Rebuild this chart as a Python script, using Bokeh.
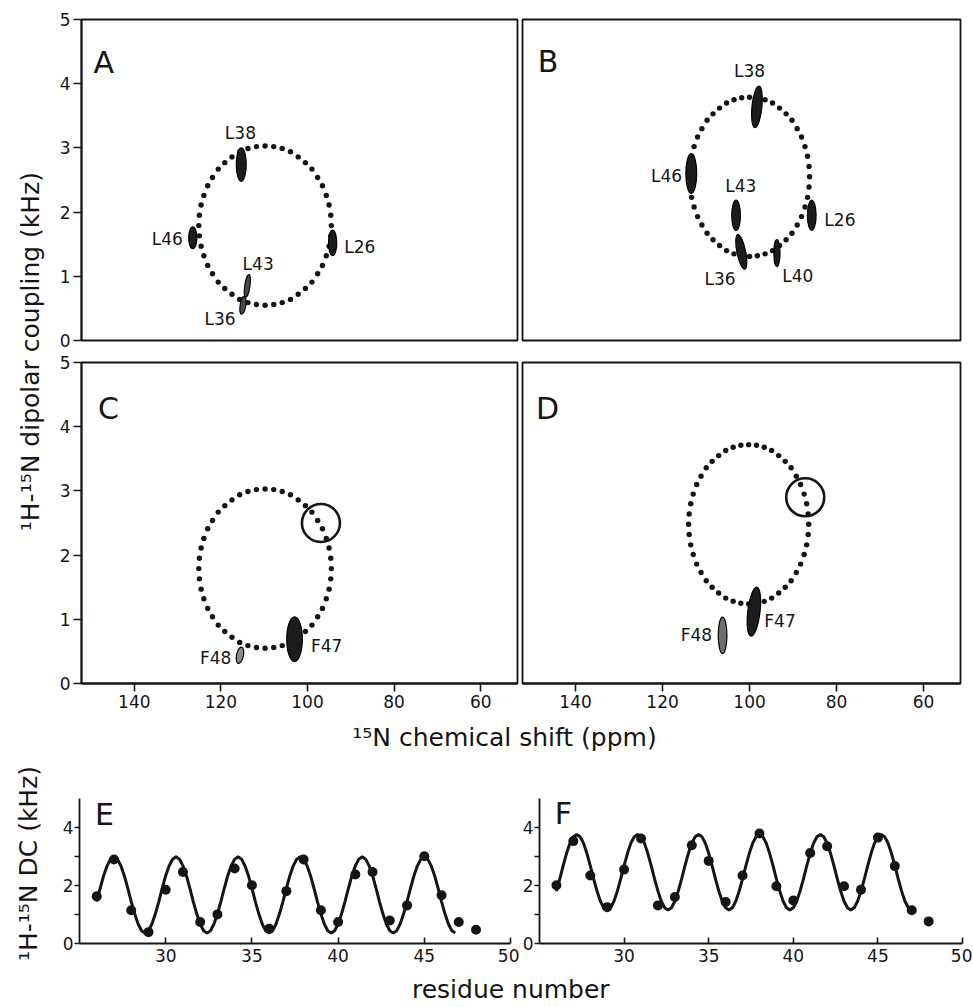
import math
from bokeh.plotting import figure
from bokeh.layouts import row, column
from bokeh.models import Range1d, FixedTicker, ColumnDataSource
from bokeh.core.properties import value, field
from bokeh.embed import file_html
from bokeh.resources import INLINE

FONT = "DejaVu Sans"
INK = "#151515"

# ---------------- axis ticks ----------------
ppm_ticks = [140, 120, 100, 80, 60]
khz_ticks = [0, 1, 2, 3, 4, 5]
residue_ticks = [30, 35, 40, 45, 50]
dc_major_ticks = [0, 2, 4]
dc_minor_ticks = [1, 3]

# ---------------- PISA wheel dots (15N ppm, kHz) ----------------
wheel_AC_ppm = [125.10, 124.97, 124.58, 123.94, 123.05, 121.94, 120.62, 119.11, 117.45, 115.66, 113.76, 111.80,
                109.80, 107.80, 105.84, 103.94, 102.15, 100.49, 98.98, 97.66, 96.55, 95.66, 95.02, 94.63,
                94.50, 94.63, 95.02, 95.66, 96.55, 97.66, 98.98, 100.49, 102.15, 103.94, 105.84, 107.80,
                109.80, 111.80, 113.76, 115.66, 117.45, 119.11, 120.62, 121.94, 123.05, 123.94, 124.58, 124.97]
wheel_AC_khz = [1.79, 1.95, 2.11, 2.26, 2.41, 2.54, 2.67, 2.77, 2.86, 2.94, 2.99, 3.02,
                3.03, 3.02, 2.99, 2.94, 2.86, 2.77, 2.67, 2.54, 2.41, 2.26, 2.11, 1.95,
                1.79, 1.63, 1.47, 1.32, 1.17, 1.04, 0.91, 0.81, 0.72, 0.64, 0.59, 0.56,
                0.55, 0.56, 0.59, 0.64, 0.72, 0.81, 0.91, 1.04, 1.17, 1.32, 1.47, 1.63]

wheel_B_ppm = [113.80, 113.68, 113.33, 112.75, 111.95, 110.95, 109.76, 108.40, 106.90, 105.28, 103.57, 101.80,
               100.00, 98.20, 96.43, 94.72, 93.10, 91.60, 90.24, 89.05, 88.05, 87.25, 86.67, 86.32,
               86.20, 86.32, 86.67, 87.25, 88.05, 89.05, 90.24, 91.60, 93.10, 94.72, 96.43, 98.20,
               100.00, 101.80, 103.57, 105.28, 106.90, 108.40, 109.76, 110.95, 111.95, 112.75, 113.33, 113.68]
wheel_B_khz = [2.55, 2.71, 2.87, 3.02, 3.17, 3.30, 3.43, 3.53, 3.62, 3.70, 3.75, 3.78,
               3.79, 3.78, 3.75, 3.70, 3.62, 3.53, 3.43, 3.30, 3.17, 3.02, 2.87, 2.71,
               2.55, 2.39, 2.23, 2.08, 1.93, 1.80, 1.67, 1.57, 1.48, 1.40, 1.35, 1.32,
               1.31, 1.32, 1.35, 1.40, 1.48, 1.57, 1.67, 1.80, 1.93, 2.08, 2.23, 2.39]

wheel_D_ppm = [114.00, 113.88, 113.53, 112.95, 112.15, 111.15, 109.96, 108.60, 107.10, 105.48, 103.77, 102.00,
               100.20, 98.40, 96.63, 94.92, 93.30, 91.80, 90.44, 89.25, 88.25, 87.45, 86.87, 86.52,
               86.40, 86.52, 86.87, 87.45, 88.25, 89.25, 90.44, 91.80, 93.30, 94.92, 96.63, 98.40,
               100.20, 102.00, 103.77, 105.48, 107.10, 108.60, 109.96, 111.15, 112.15, 112.95, 113.53, 113.88]
wheel_D_khz = [2.48, 2.64, 2.80, 2.95, 3.10, 3.23, 3.36, 3.46, 3.55, 3.63, 3.68, 3.71,
               3.72, 3.71, 3.68, 3.63, 3.55, 3.46, 3.36, 3.23, 3.10, 2.95, 2.80, 2.64,
               2.48, 2.32, 2.16, 2.01, 1.86, 1.73, 1.60, 1.50, 1.41, 1.33, 1.28, 1.25,
               1.24, 1.25, 1.28, 1.33, 1.41, 1.50, 1.60, 1.73, 1.86, 2.01, 2.16, 2.32]

# ---------------- resonances ----------------
A_peak_label = ["L38", "L46", "L26", "L43", "L36"]
A_peak_ppm = [115.3, 126.5, 94.2, 113.9, 114.9]
A_peak_khz = [2.74, 1.60, 1.52, 0.85, 0.55]
A_peak_w = [2.3, 1.9, 1.9, 1.2, 1.3]
A_peak_h = [0.52, 0.34, 0.40, 0.36, 0.28]
A_peak_tilt = [0.0, 0.0, 0.0, -0.15, -0.15]
A_label_ppm = [115.5, 128.8, 91.5, 111.4, 120.2]
A_label_khz = [3.23, 1.58, 1.46, 1.19, 0.34]
A_label_align = ["center", "right", "left", "center", "center"]

B_peak_label = ["L38", "L46", "L43", "L36", "L40", "L26"]
B_peak_ppm = [98.3, 113.4, 103.1, 101.9, 93.7, 85.7]
B_peak_khz = [3.64, 2.60, 1.95, 1.38, 1.36, 1.95]
B_peak_w = [2.3, 2.5, 2.0, 2.0, 1.4, 2.0]
B_peak_h = [0.65, 0.62, 0.47, 0.55, 0.42, 0.47]
B_peak_tilt = [-0.1, 0.0, 0.0, 0.2, 0.0, 0.0]
B_label_ppm = [100.0, 115.5, 102.0, 106.8, 88.9, 82.8]
B_label_khz = [4.20, 2.57, 2.40, 0.96, 1.01, 1.88]
B_label_align = ["center", "right", "center", "center", "center", "left"]

C_peak_label = ["F47", "F48"]
C_peak_ppm = [103.0, 115.6]
C_peak_khz = [0.69, 0.44]
C_peak_w = [3.6, 1.6]
C_peak_h = [0.70, 0.26]
C_peak_tilt = [0.0, -0.2]
C_label_ppm = [99.2, 117.6]
C_label_khz = [0.59, 0.39]
C_label_align = ["left", "right"]
C_circle_ppm = [96.9]
C_circle_khz = [2.50]

D_peak_label = ["F47", "F48"]
D_peak_ppm = [99.0, 106.2]
D_peak_khz = [1.12, 0.75]
D_peak_w = [2.8, 2.0]
D_peak_h = [0.77, 0.57]
D_peak_tilt = [-0.12, 0.0]
D_label_ppm = [96.6, 108.6]
D_label_khz = [0.98, 0.75]
D_label_align = ["left", "right"]
D_circle_ppm = [87.2]
D_circle_khz = [2.90]

# ---------------- dipolar waves ----------------
residues = [26, 27, 28, 29, 30, 31, 32, 33, 34, 35, 36, 37, 38, 39, 40, 41, 42, 43, 44, 45, 46, 47, 48]
E_dc = [1.62, 2.89, 1.14, 0.39, 1.85, 2.46, 0.74, 1.00, 2.58, 2.00, 0.51, 1.80,
        2.89, 1.14, 0.74, 2.37, 2.46, 0.79, 1.31, 3.00, 1.66, 0.74, 0.47]
F_dc = [2.00, 3.52, 2.34, 1.25, 2.54, 3.61, 1.31, 1.60, 3.38, 2.84, 1.43, 2.34,
        3.78, 1.97, 1.48, 3.11, 3.34, 1.97, 1.85, 3.64, 2.66, 1.14, 0.76]

E_fit_res = [26.0, 26.2, 26.4, 26.6, 26.8, 27.0, 27.2, 27.4, 27.6, 27.8,
             28.0, 28.2, 28.4, 28.6, 28.8, 29.0, 29.2, 29.4, 29.6, 29.8,
             30.0, 30.2, 30.4, 30.6, 30.8, 31.0, 31.2, 31.4, 31.6, 31.8,
             32.0, 32.2, 32.4, 32.6, 32.8, 33.0, 33.2, 33.4, 33.6, 33.8,
             34.0, 34.2, 34.4, 34.6, 34.8, 35.0, 35.2, 35.4, 35.6, 35.8,
             36.0, 36.2, 36.4, 36.6, 36.8, 37.0, 37.2, 37.4, 37.6, 37.8,
             38.0, 38.2, 38.4, 38.6, 38.8, 39.0, 39.2, 39.4, 39.6, 39.8,
             40.0, 40.2, 40.4, 40.6, 40.8, 41.0, 41.2, 41.4, 41.6, 41.8,
             42.0, 42.2, 42.4, 42.6, 42.8, 43.0, 43.2, 43.4, 43.6, 43.8,
             44.0, 44.2, 44.4, 44.6, 44.8, 45.0, 45.2, 45.4, 45.6, 45.8,
             46.0, 46.2, 46.4, 46.6, 46.8]
E_fit_dc = [1.44, 1.90, 2.33, 2.67, 2.90, 2.98, 2.90, 2.67, 2.33, 1.90, 1.44, 1.02, 0.67, 0.44, 0.36, 0.44, 0.67, 1.02,
            1.44, 1.90, 2.33, 2.67, 2.90, 2.98, 2.90, 2.67, 2.33, 1.90, 1.44, 1.02, 0.67, 0.44, 0.36, 0.44, 0.67, 1.02,
            1.44, 1.90, 2.33, 2.67, 2.90, 2.98, 2.90, 2.67, 2.33, 1.90, 1.44, 1.02, 0.67, 0.44, 0.36, 0.44, 0.67, 1.02,
            1.44, 1.90, 2.33, 2.67, 2.90, 2.98, 2.90, 2.67, 2.33, 1.90, 1.44, 1.02, 0.67, 0.44, 0.36, 0.44, 0.67, 1.02,
            1.44, 1.90, 2.33, 2.67, 2.90, 2.98, 2.90, 2.67, 2.33, 1.90, 1.44, 1.02, 0.67, 0.44, 0.36, 0.44, 0.67, 1.02,
            1.44, 1.90, 2.33, 2.67, 2.90, 2.98, 2.90, 2.67, 2.33, 1.90, 1.44, 1.02, 0.67, 0.44, 0.36]

F_fit_res = [26.0, 26.2, 26.4, 26.6, 26.8, 27.0, 27.2, 27.4, 27.6, 27.8,
             28.0, 28.2, 28.4, 28.6, 28.8, 29.0, 29.2, 29.4, 29.6, 29.8,
             30.0, 30.2, 30.4, 30.6, 30.8, 31.0, 31.2, 31.4, 31.6, 31.8,
             32.0, 32.2, 32.4, 32.6, 32.8, 33.0, 33.2, 33.4, 33.6, 33.8,
             34.0, 34.2, 34.4, 34.6, 34.8, 35.0, 35.2, 35.4, 35.6, 35.8,
             36.0, 36.2, 36.4, 36.6, 36.8, 37.0, 37.2, 37.4, 37.6, 37.8,
             38.0, 38.2, 38.4, 38.6, 38.8, 39.0, 39.2, 39.4, 39.6, 39.8,
             40.0, 40.2, 40.4, 40.6, 40.8, 41.0, 41.2, 41.4, 41.6, 41.8,
             42.0, 42.2, 42.4, 42.6, 42.8, 43.0, 43.2, 43.4, 43.6, 43.8,
             44.0, 44.2, 44.4, 44.6, 44.8, 45.0, 45.2, 45.4, 45.6, 45.8,
             46.0, 46.2, 46.4, 46.6, 46.8, 47.0]
F_fit_dc = [1.80, 2.22, 2.68, 3.10, 3.45, 3.67, 3.75, 3.67, 3.45, 3.10, 2.68, 2.22, 1.80, 1.45, 1.23, 1.15, 1.23, 1.45,
            1.80, 2.22, 2.68, 3.10, 3.45, 3.67, 3.75, 3.67, 3.45, 3.10, 2.68, 2.22, 1.80, 1.45, 1.23, 1.15, 1.23, 1.45,
            1.80, 2.22, 2.68, 3.10, 3.45, 3.67, 3.75, 3.67, 3.45, 3.10, 2.68, 2.22, 1.80, 1.45, 1.23, 1.15, 1.23, 1.45,
            1.80, 2.22, 2.68, 3.10, 3.45, 3.67, 3.75, 3.67, 3.45, 3.10, 2.68, 2.22, 1.80, 1.45, 1.23, 1.15, 1.23, 1.45,
            1.80, 2.22, 2.68, 3.10, 3.45, 3.67, 3.75, 3.67, 3.45, 3.10, 2.68, 2.22, 1.80, 1.45, 1.23, 1.15, 1.23, 1.45,
            1.80, 2.22, 2.68, 3.10, 3.45, 3.67, 3.75, 3.67, 3.45, 3.10, 2.68, 2.22, 1.80, 1.45, 1.23, 1.15]


# ---------------- helpers ----------------
def style_axes(p, tick_out, tick_in, standoff):
    for ax in p.axis:
        ax.axis_line_color = INK
        ax.axis_line_width = 1.8
        ax.major_tick_line_color = INK
        ax.major_tick_line_width = 1.6
        ax.major_tick_out = tick_out
        ax.major_tick_in = tick_in
        ax.minor_tick_line_color = None
        ax.major_label_text_font = FONT
        ax.major_label_text_font_size = "17px"
        ax.major_label_text_color = INK
        ax.major_label_standoff = standoff


def pisa_panel(w, h, mbl, mbr, mbt, mbb, show_x, show_y):
    p = figure(width=w, height=h, x_range=Range1d(152.2, 51.5), y_range=Range1d(0, 5),
               output_backend="svg", toolbar_location=None, tools="",
               x_axis_location="below" if show_x else None,
               y_axis_location="left" if show_y else None,
               min_border_left=mbl, min_border_right=mbr,
               min_border_top=mbt, min_border_bottom=mbb)
    p.grid.visible = False
    p.outline_line_color = INK
    p.outline_line_width = 1.8
    p.outline_line_alpha = 1.0
    if show_x:
        p.xaxis.ticker = FixedTicker(ticks=ppm_ticks)
    if show_y:
        p.yaxis.ticker = FixedTicker(ticks=khz_ticks)
    style_axes(p, 8, 0, 3)
    return p


def draw_wheel(p, xs, ys):
    p.scatter(xs, ys, size=5.4, marker="circle", fill_color=INK, line_color=None)


def draw_peaks(p, xs, ys, ws, hs, tilts, fills):
    src = ColumnDataSource(dict(x=xs, y=ys, w=ws, h=hs, a=tilts, f=fills))
    p.ellipse(x="x", y="y", width="w", height="h", angle="a", source=src,
              fill_color="f", line_color="#000000", line_width=1.2)


def draw_labels(p, xs, ys, texts, aligns):
    src = ColumnDataSource(dict(x=xs, y=ys, t=texts, al=aligns))
    p.text(x="x", y="y", text="t", source=src, text_align=field("al"), text_baseline="middle",
           text_font=value(FONT), text_font_size="17px", text_color=INK)


def panel_letter(p, x, y, letter):
    p.text(x=[x], y=[y], text=[letter], text_align="left", text_baseline="alphabetic",
           text_font=value(FONT), text_font_size="30px", text_color=INK)


def label_fig(w, h):
    p = figure(width=w, height=h, x_range=Range1d(0, 1), y_range=Range1d(0, 1),
               output_backend="svg", toolbar_location=None, tools="",
               x_axis_location=None, y_axis_location=None,
               min_border_left=0, min_border_right=0, min_border_top=0, min_border_bottom=0)
    p.outline_line_color = None
    p.grid.visible = False
    return p


def wave_panel(w, mbl, mbr):
    p = figure(width=w, height=216, x_range=Range1d(25, 50), y_range=Range1d(0, 5.5),
               output_backend="svg", toolbar_location=None, tools="",
               min_border_left=mbl, min_border_right=mbr, min_border_top=27, min_border_bottom=29)
    p.grid.visible = False
    p.outline_line_color = None
    p.xaxis.bounds = (25, 50)
    p.yaxis.bounds = (0, 5)
    p.xaxis.ticker = FixedTicker(ticks=residue_ticks)
    p.yaxis.ticker = FixedTicker(ticks=dc_major_ticks, minor_ticks=dc_minor_ticks)
    style_axes(p, 0, 0, 0)
    p.xaxis.major_tick_in = 6
    p.xaxis.major_tick_out = 0
    p.xaxis.major_label_standoff = 5
    p.yaxis.major_tick_out = 5
    p.yaxis.major_label_standoff = 1
    p.yaxis.minor_tick_line_color = INK
    p.yaxis.minor_tick_line_width = 1.6
    p.yaxis.minor_tick_out = 5
    p.yaxis.minor_tick_in = 0
    return p


DARK = "#1c1c1c"
GREY = "#8a8a8a"

# ---------------- panel A ----------------
pA = pisa_panel(471, 351, 33, 2, 19, 11, False, True)
draw_wheel(pA, wheel_AC_ppm, wheel_AC_khz)
draw_peaks(pA, A_peak_ppm, A_peak_khz, A_peak_w, A_peak_h, A_peak_tilt,
           [DARK, DARK, DARK, "#4a4a4a", "#4a4a4a"])
draw_labels(pA, A_label_ppm, A_label_khz, A_peak_label, A_label_align)
panel_letter(pA, 149.4, 4.33, "A")

# ---------------- panel B ----------------
pB = pisa_panel(453, 351, 3, 12, 19, 11, False, False)
draw_wheel(pB, wheel_B_ppm, wheel_B_khz)
draw_peaks(pB, B_peak_ppm, B_peak_khz, B_peak_w, B_peak_h, B_peak_tilt, [DARK] * 6)
draw_labels(pB, B_label_ppm, B_label_khz, B_peak_label, B_label_align)
panel_letter(pB, 148.7, 4.35, "B")

# ---------------- panel C ----------------
pC = pisa_panel(471, 367, 33, 2, 11, 35, True, True)
draw_wheel(pC, wheel_AC_ppm, wheel_AC_khz)
draw_peaks(pC, C_peak_ppm, C_peak_khz, C_peak_w, C_peak_h, C_peak_tilt, [DARK, GREY])
draw_labels(pC, C_label_ppm, C_label_khz, C_peak_label, C_label_align)
pC.scatter(C_circle_ppm, C_circle_khz, size=38, marker="circle", fill_color=None,
           line_color=INK, line_width=2.6)
panel_letter(pC, 148.4, 4.28, "C")

# ---------------- panel D ----------------
pD = pisa_panel(453, 367, 3, 12, 11, 35, True, False)
draw_wheel(pD, wheel_D_ppm, wheel_D_khz)
draw_peaks(pD, D_peak_ppm, D_peak_khz, D_peak_w, D_peak_h, D_peak_tilt, [DARK, "#6e6e6e"])
draw_labels(pD, D_label_ppm, D_label_khz, D_peak_label, D_label_align)
pD.scatter(D_circle_ppm, D_circle_khz, size=38, marker="circle", fill_color=None,
           line_color=INK, line_width=2.6)
panel_letter(pD, 149.1, 4.28, "D")

# ---------------- panels E, F ----------------
pE = wave_panel(519, 79, 9)
pE.yaxis.axis_label = "¹H-¹⁵N DC (kHz)"
pE.yaxis.axis_label_text_font = FONT
pE.yaxis.axis_label_text_font_size = "25px"
pE.yaxis.axis_label_text_font_style = "normal"
pE.yaxis.axis_label_text_color = INK
pE.yaxis.axis_label_standoff = 17
pE.line(E_fit_res, E_fit_dc, line_width=3, line_color=INK)
pE.scatter(residues, E_dc, size=10, marker="circle", fill_color=INK, line_color=None)
panel_letter(pE, 25.9, 4.45, "E")

pF = wave_panel(453, 15, 10)
pF.line(F_fit_res, F_fit_dc, line_width=3, line_color=INK)
pF.scatter(residues, F_dc, size=10, marker="circle", fill_color=INK, line_color=None)
panel_letter(pF, 25.9, 4.47, "F")

# ---------------- shared axis titles ----------------
ylab1 = label_fig(48, 718)
ylab1.text(x=[0.625], y=[0.511], text=["¹H-¹⁵N dipolar coupling (kHz)"], angle=math.pi / 2,
           text_align="center", text_baseline="middle", text_font=value(FONT),
           text_font_size="25px", text_color=INK)

xlab1 = label_fig(972, 38)
xlab1.text(x=[0.5185], y=[0.5], text=["¹⁵N chemical shift (ppm)"],
           text_align="center", text_baseline="middle", text_font=value(FONT),
           text_font_size="25px", text_color=INK)

xlab2 = label_fig(972, 33)
xlab2.text(x=[0.525], y=[0.485], text=["residue number"],
           text_align="center", text_baseline="middle", text_font=value(FONT),
           text_font_size="25px", text_color=INK)

top = row(ylab1, column(row(pA, pB), row(pC, pD)))
bottom = row(pE, pF)
page = column(top, xlab1, bottom, xlab2)

open("out.html", "w").write(file_html(page, INLINE))
